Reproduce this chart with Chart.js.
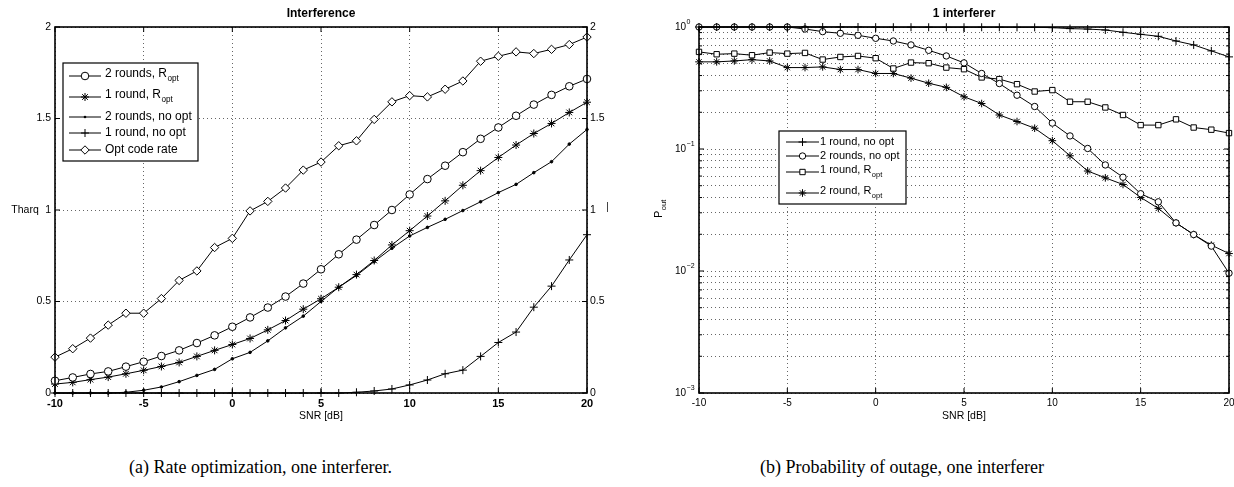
<!DOCTYPE html>
<html>
<head>
<meta charset="utf-8">
<script src="https://cdn.jsdelivr.net/npm/chart.js@4.4.1/dist/chart.umd.min.js"></script>
<style>
  body { margin: 0; background: #fff; width: 1234px; height: 487px; overflow: hidden; position: relative; }
  .box { position: absolute; top: 0; width: 617px; height: 430px; }
  .caption { position: absolute; top: 457px; line-height: 20px; font-family: "Liberation Serif", "Times New Roman", serif; font-size: 18px; color: #000; white-space: nowrap; }
</style>
</head>
<body>
<div class="box" style="left:0"><canvas id="rateChart" width="617" height="430"></canvas></div>
<div class="box" style="left:617px"><canvas id="outageChart" width="617" height="430"></canvas></div>
<div class="caption" style="left:129px">(a) Rate optimization, one interferer.</div>
<div class="caption" style="left:760px">(b) Probability of outage, one interferer</div>
<script>
// SNR points (dB), shared by both plots
const snr = [-10, -9, -8, -7, -6, -5, -4, -3, -2, -1, 0, 1, 2, 3, 4, 5, 6, 7, 8, 9, 10, 11, 12, 13, 14, 15, 16, 17, 18, 19, 20];
const snrTicks = [-10, -5, 0, 5, 10, 15, 20];
const rateTicks = [0, 0.5, 1, 1.5, 2];
const outageExponents = [-3, -2, -1, 0];
const minorSteps = [2, 3, 4, 5, 6, 7, 8, 9];

// (a) throughput / rate
const twoRoundsRopt = [0.067, 0.085, 0.104, 0.118, 0.144, 0.171, 0.202, 0.233, 0.273, 0.315, 0.362, 0.413, 0.467, 0.527, 0.598, 0.676, 0.758, 0.838, 0.918, 1.0, 1.085, 1.169, 1.242, 1.316, 1.389, 1.451, 1.515, 1.576, 1.629, 1.676, 1.716];
const oneRoundRopt = [0.049, 0.058, 0.073, 0.087, 0.105, 0.124, 0.145, 0.167, 0.2, 0.233, 0.265, 0.298, 0.345, 0.396, 0.458, 0.515, 0.578, 0.647, 0.724, 0.809, 0.887, 0.967, 1.05, 1.135, 1.215, 1.287, 1.355, 1.418, 1.473, 1.533, 1.589];
const twoRoundsNoOpt = [0, 0, 0, 0, 0.004, 0.015, 0.033, 0.062, 0.096, 0.129, 0.187, 0.222, 0.285, 0.356, 0.42, 0.5, 0.578, 0.642, 0.718, 0.791, 0.858, 0.905, 0.949, 0.997, 1.045, 1.095, 1.14, 1.204, 1.264, 1.36, 1.44];
const oneRoundNoOpt = [0, 0, 0, 0, 0, 0, 0, 0, 0, 0, 0, 0, 0, 0, 0, 0, 0, 0.004, 0.011, 0.022, 0.044, 0.071, 0.105, 0.125, 0.2, 0.276, 0.333, 0.469, 0.584, 0.727, 0.865];
const optCodeRate = [0.196, 0.242, 0.3, 0.371, 0.436, 0.436, 0.516, 0.615, 0.667, 0.795, 0.845, 0.995, 1.047, 1.12, 1.218, 1.262, 1.351, 1.378, 1.495, 1.591, 1.625, 1.618, 1.66, 1.705, 1.813, 1.84, 1.864, 1.855, 1.878, 1.904, 1.945];

// (b) outage probability
const outOneNoOpt = [1, 1, 1, 1, 1, 1, 1, 1, 1, 1, 0.997, 0.996, 0.996, 0.995, 0.995, 0.995, 0.995, 0.995, 0.994, 0.993, 0.988, 0.97, 0.962, 0.945, 0.905, 0.871, 0.839, 0.768, 0.713, 0.637, 0.569];
const outTwoNoOpt = [1, 1, 1, 1, 1, 1, 0.963, 0.916, 0.888, 0.855, 0.808, 0.768, 0.713, 0.644, 0.579, 0.508, 0.416, 0.344, 0.276, 0.223, 0.163, 0.128, 0.101, 0.074, 0.0587, 0.043, 0.0369, 0.0248, 0.0199, 0.016, 0.0096];
const outOneRopt = [0.625, 0.598, 0.605, 0.587, 0.617, 0.605, 0.613, 0.541, 0.568, 0.579, 0.555, 0.457, 0.511, 0.505, 0.465, 0.451, 0.386, 0.374, 0.34, 0.296, 0.304, 0.244, 0.244, 0.219, 0.19, 0.157, 0.157, 0.175, 0.15, 0.144, 0.135];
const outTwoRopt = [0.518, 0.518, 0.527, 0.54, 0.527, 0.465, 0.465, 0.471, 0.448, 0.448, 0.416, 0.416, 0.381, 0.346, 0.32, 0.268, 0.236, 0.19, 0.168, 0.148, 0.117, 0.088, 0.066, 0.058, 0.0512, 0.0401, 0.0326, 0.0248, 0.0199, 0.0163, 0.0139];

const FONT = '"Liberation Sans", Arial, Helvetica, sans-serif';
const GRID = 'rgba(0,0,0,0.6)';

function series(label, values, style, radius) {
  const dot = style === 'dot';
  return {
    label: label,
    data: values.map((v, i) => ({ x: snr[i], y: v })),
    borderColor: '#000',
    borderWidth: 1,
    pointStyle: dot ? 'circle' : style,
    pointRadius: radius,
    pointHoverRadius: radius,
    pointBorderColor: '#000',
    pointBackgroundColor: dot ? '#000' : '#fff',
    pointBorderWidth: 1,
    tension: 0,
    fill: false,
    clip: false
  };
}

function drawMarker(ctx, style, x, y, r) {
  ctx.save();
  ctx.strokeStyle = '#000';
  ctx.fillStyle = '#fff';
  ctx.lineWidth = 1;
  ctx.beginPath();
  if (style === 'circle') {
    ctx.arc(x, y, r, 0, Math.PI * 2);
    ctx.fill(); ctx.stroke();
  } else if (style === 'dot') {
    ctx.fillStyle = '#000';
    ctx.arc(x, y, r, 0, Math.PI * 2);
    ctx.fill();
  } else if (style === 'rect') {
    const s = r * Math.SQRT1_2;
    ctx.rect(x - s, y - s, 2 * s, 2 * s);
    ctx.fill(); ctx.stroke();
  } else if (style === 'rectRot') {
    ctx.moveTo(x, y - r); ctx.lineTo(x + r, y); ctx.lineTo(x, y + r); ctx.lineTo(x - r, y); ctx.closePath();
    ctx.fill(); ctx.stroke();
  } else {
    ctx.moveTo(x - r, y); ctx.lineTo(x + r, y);
    ctx.moveTo(x, y - r); ctx.lineTo(x, y + r);
    if (style === 'star') {
      const d = r * Math.SQRT1_2;
      ctx.moveTo(x - d, y - d); ctx.lineTo(x + d, y + d);
      ctx.moveTo(x - d, y + d); ctx.lineTo(x + d, y - d);
    }
    ctx.stroke();
  }
  ctx.restore();
}

function drawLegend(ctx, lg) {
  ctx.save();
  ctx.fillStyle = '#fff';
  ctx.fillRect(lg.x, lg.y, lg.w, lg.h);
  ctx.strokeStyle = '#000';
  ctx.lineWidth = 1.2;
  ctx.strokeRect(lg.x, lg.y, lg.w, lg.h);
  lg.rows.forEach(row => {
    const y = lg.y + row.dy;
    ctx.strokeStyle = '#000';
    ctx.lineWidth = 1;
    ctx.beginPath();
    ctx.moveTo(lg.x0, y); ctx.lineTo(lg.x1, y);
    ctx.stroke();
    drawMarker(ctx, row.style, (lg.x0 + lg.x1) / 2, y, row.r);
    ctx.fillStyle = '#000';
    ctx.textAlign = 'left';
    ctx.font = lg.size + 'px ' + FONT;
    if (row.sub) {
      ctx.textBaseline = 'alphabetic';
      ctx.fillText(row.text, lg.tx, y + 1);
      const w = ctx.measureText(row.text).width;
      ctx.font = (lg.size * 0.68) + 'px ' + FONT;
      ctx.fillText(row.sub, lg.tx + w + 0.5, y + 5);
    } else {
      ctx.textBaseline = 'middle';
      ctx.fillText(row.text, lg.tx, y);
    }
  });
  ctx.restore();
}

const rateLegend = {
  x: 63, y: 63, w: 135, h: 98, x0: 69, x1: 101, tx: 105, size: 12,
  rows: [
    { text: '2 rounds, R', sub: 'opt', style: 'circle', r: 3.8, dy: 13 },
    { text: '1 round, R', sub: 'opt', style: 'star', r: 4, dy: 34 },
    { text: '2 rounds, no opt', style: 'dot', r: 1.3, dy: 54 },
    { text: '1 round, no opt', style: 'cross', r: 4, dy: 70 },
    { text: 'Opt code rate', style: 'rectRot', r: 4.2, dy: 87 }
  ]
};

const outageLegend = {
  x: 162, y: 131, w: 127, h: 73, x0: 169, x1: 202, tx: 203, size: 11,
  rows: [
    { text: '1 round, no opt', style: 'cross', r: 4, dy: 11 },
    { text: '2 rounds, no opt', style: 'circle', r: 3.2, dy: 25 },
    { text: '1 round, R', sub: 'opt', style: 'rect', r: 3.8, dy: 41 },
    { text: '2 round, R', sub: 'opt', style: 'star', r: 3.8, dy: 62 }
  ]
};

function drawFrame(ctx, a) {
  ctx.save();
  ctx.strokeStyle = '#000';
  ctx.lineWidth = 1.6;
  ctx.strokeRect(a.left, a.top, a.right - a.left, a.bottom - a.top);
  ctx.restore();
}

function xInwardTicks(ctx, a, xs) {
  ctx.beginPath();
  snrTicks.forEach(v => {
    const px = xs.getPixelForValue(v);
    ctx.moveTo(px, a.bottom); ctx.lineTo(px, a.bottom - 5);
    ctx.moveTo(px, a.top); ctx.lineTo(px, a.top + 5);
  });
  ctx.stroke();
}

const rateDecor = {
  id: 'rateDecor',
  afterDraw(chart) {
    const { ctx, chartArea: a, scales } = chart;
    drawFrame(ctx, a);
    ctx.save();
    ctx.strokeStyle = '#000';
    ctx.lineWidth = 1;
    xInwardTicks(ctx, a, scales.x);
    ctx.beginPath();
    rateTicks.forEach(v => {
      const py = scales.y.getPixelForValue(v);
      ctx.moveTo(a.left, py); ctx.lineTo(a.left + 5, py);
      ctx.moveTo(a.right, py); ctx.lineTo(a.right - 5, py);
    });
    ctx.stroke();
    ctx.fillStyle = '#000';
    ctx.textAlign = 'center';
    ctx.textBaseline = 'middle';
    ctx.font = 'bold 12px ' + FONT;
    ctx.fillText('Interference', (a.left + a.right) / 2, 14);
    ctx.font = '10.5px ' + FONT;
    ctx.fillText('SNR [dB]', (a.left + a.right) / 2, 416);
    ctx.fillText('Tharq', 25, scales.y.getPixelForValue(1));
    ctx.translate(608, 207);
    ctx.rotate(Math.PI / 2);
    ctx.font = '10px ' + FONT;
    ctx.fillText('\u2014', 0, 0);
    ctx.restore();
    drawLegend(ctx, rateLegend);
  }
};

const outageDecor = {
  id: 'outageDecor',
  afterDraw(chart) {
    const { ctx, chartArea: a, scales } = chart;
    drawFrame(ctx, a);
    ctx.save();
    ctx.strokeStyle = '#000';
    ctx.lineWidth = 1;
    xInwardTicks(ctx, a, scales.x);
    ctx.beginPath();
    outageExponents.forEach(e => {
      const py = scales.y.getPixelForValue(Math.pow(10, e));
      ctx.moveTo(a.left, py); ctx.lineTo(a.left + 5, py);
      ctx.moveTo(a.right, py); ctx.lineTo(a.right - 5, py);
      if (e < 0) {
        minorSteps.forEach(m => {
          const pm = scales.y.getPixelForValue(m * Math.pow(10, e));
          ctx.moveTo(a.left, pm); ctx.lineTo(a.left + 3, pm);
          ctx.moveTo(a.right, pm); ctx.lineTo(a.right - 3, pm);
        });
      }
    });
    ctx.stroke();
    // y tick labels: 10 with superscript exponent
    ctx.fillStyle = '#000';
    ctx.textAlign = 'left';
    ctx.textBaseline = 'middle';
    outageExponents.forEach(e => {
      const py = scales.y.getPixelForValue(Math.pow(10, e));
      ctx.font = '10px ' + FONT;
      ctx.fillText('10', 58, py);
      const w = ctx.measureText('10').width;
      ctx.font = '7px ' + FONT;
      ctx.fillText(e < 0 ? '\u2212' + Math.abs(e) : String(e), 58 + w + 0.5, py - 5);
    });
    ctx.textAlign = 'center';
    ctx.font = 'bold 12px ' + FONT;
    ctx.fillText('1 interferer', (a.left + a.right) / 2, 14);
    ctx.font = '10.5px ' + FONT;
    ctx.fillText('SNR [dB]', (a.left + a.right) / 2, 416);
    // rotated P_out label
    ctx.translate(45, 218);
    ctx.rotate(-Math.PI / 2);
    ctx.textAlign = 'left';
    ctx.textBaseline = 'alphabetic';
    ctx.font = '11px ' + FONT;
    ctx.fillText('P', 0, 0);
    const pw = ctx.measureText('P').width;
    ctx.font = '7.5px ' + FONT;
    ctx.fillText('out', pw + 0.5, 4);
    ctx.restore();
    drawLegend(ctx, outageLegend);
  }
};

function xScale(bold, size) {
  return {
    type: 'linear', position: 'bottom', min: -10, max: 20,
    afterBuildTicks: s => { s.ticks = snrTicks.map(v => ({ value: v })); },
    afterFit: s => { s.height = 37; s.paddingLeft = 0; s.paddingRight = 0; },
    grid: { color: GRID, lineWidth: 1, drawTicks: false },
    border: { display: false, dash: [1, 3] },
    ticks: { color: '#000', padding: 4, maxRotation: 0, autoSkip: false,
             callback: v => String(v),
             font: { family: FONT, size: size, weight: bold ? 'bold' : 'normal' } }
  };
}

const baseOptions = {
  responsive: false,
  animation: false,
  events: [],
  plugins: { legend: { display: false }, tooltip: { enabled: false } }
};

new Chart(document.getElementById('rateChart'), {
  type: 'line',
  data: {
    datasets: [
      series('2 rounds, Ropt', twoRoundsRopt, 'circle', 3.8),
      series('1 round, Ropt', oneRoundRopt, 'star', 4),
      series('2 rounds, no opt', twoRoundsNoOpt, 'dot', 1.3),
      series('1 round, no opt', oneRoundNoOpt, 'cross', 4),
      series('Opt code rate', optCodeRate, 'rectRot', 4.2)
    ]
  },
  options: Object.assign({}, baseOptions, {
    layout: { padding: { top: 27, left: 0, right: 0, bottom: 0 } },
    scales: {
      x: xScale(true, 11),
      y: {
        type: 'linear', position: 'left', min: 0, max: 2,
        afterBuildTicks: s => { s.ticks = rateTicks.map(v => ({ value: v })); },
        afterFit: s => { s.width = 55; s.paddingTop = 0; s.paddingBottom = 0; },
        grid: { color: GRID, lineWidth: 1, drawTicks: false },
        border: { display: false, dash: [1, 3] },
        ticks: { color: '#000', padding: 4, callback: v => String(v), font: { family: FONT, size: 10.5 } }
      },
      y2: {
        type: 'linear', position: 'right', min: 0, max: 2,
        afterBuildTicks: s => { s.ticks = rateTicks.map(v => ({ value: v })); },
        afterFit: s => { s.width = 30; s.paddingTop = 0; s.paddingBottom = 0; },
        grid: { display: false, drawTicks: false },
        border: { display: false },
        ticks: { color: '#000', padding: 3, callback: v => String(v), font: { family: FONT, size: 10.5 } }
      }
    }
  }),
  plugins: [rateDecor]
});

new Chart(document.getElementById('outageChart'), {
  type: 'line',
  data: {
    datasets: [
      series('1 round, no opt', outOneNoOpt, 'cross', 4),
      series('2 rounds, no opt', outTwoNoOpt, 'circle', 3.2),
      series('1 round, Ropt', outOneRopt, 'rect', 3.8),
      series('2 round, Ropt', outTwoRopt, 'star', 3.8)
    ]
  },
  options: Object.assign({}, baseOptions, {
    layout: { padding: { top: 27, left: 0, right: 0, bottom: 0 } },
    scales: {
      x: xScale(false, 10),
      y: {
        type: 'logarithmic', position: 'left', min: 0.001, max: 1,
        afterBuildTicks: s => {
          const t = [];
          outageExponents.forEach(e => {
            t.push({ value: Math.pow(10, e), major: true });
            if (e < 0) minorSteps.forEach(m => t.push({ value: m * Math.pow(10, e) }));
          });
          s.ticks = t;
        },
        afterFit: s => { s.width = 82; s.paddingTop = 0; s.paddingBottom = 0; },
        grid: { color: GRID, lineWidth: 1, drawTicks: false },
        border: { display: false, dash: [1, 3] },
        ticks: { display: false }
      },
      y2: {
        type: 'linear', position: 'right', min: 0, max: 1,
        afterFit: s => { s.width = 3; s.paddingTop = 0; s.paddingBottom = 0; },
        grid: { display: false, drawTicks: false },
        border: { display: false },
        ticks: { display: false }
      }
    }
  }),
  plugins: [outageDecor]
});
</script>
</body>
</html>
